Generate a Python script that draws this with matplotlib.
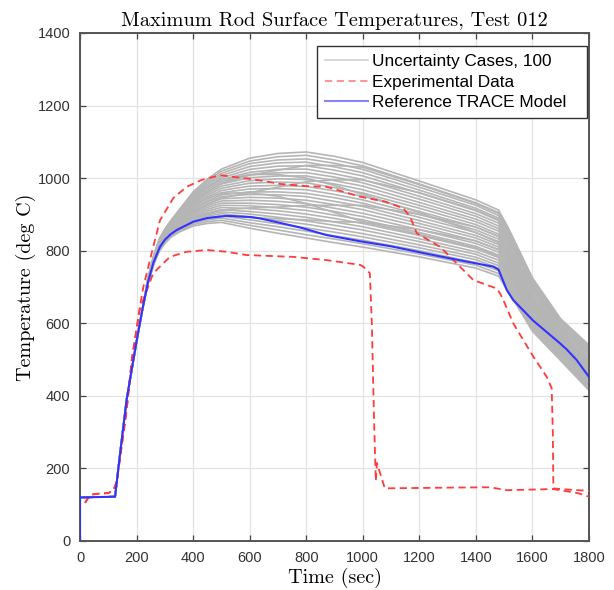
import matplotlib
matplotlib.use("Agg")
import matplotlib.pyplot as plt

plt.rcParams['font.family'] = ['Liberation Sans', 'DejaVu Sans']

# uncertainty cases: common start, then one row of values per case on t_case
t_start = [0, 124, 140, 165, 200, 220]
T_start = [120, 122, 230, 390, 550, 635]
t_case = [240, 260, 280, 300, 320, 350, 400, 450, 500, 600, 700, 800, 900, 1000,
          1200, 1400, 1480, 1510, 1540, 1600, 1700, 1800]

cases = [
    [708, 760, 798, 820, 836, 851, 868, 875, 878, 862, 848, 835, 822, 810, 783, 752, 730, 692, 655, 578, 497, 415],
    [709, 761, 799, 822, 838, 853, 872, 880, 884, 870, 857, 844, 832, 819, 791, 760, 737, 699, 662, 584, 502, 420],
    [709, 762, 801, 823, 840, 856, 876, 885, 890, 877, 866, 854, 841, 829, 800, 767, 745, 706, 668, 590, 506, 425],
    [710, 763, 802, 825, 842, 858, 879, 890, 896, 885, 874, 863, 851, 838, 808, 775, 752, 713, 675, 596, 511, 430],
    [711, 764, 803, 826, 843, 861, 883, 895, 902, 893, 883, 873, 860, 847, 816, 782, 759, 720, 682, 602, 515, 435],
    [711, 765, 805, 828, 845, 863, 887, 899, 907, 901, 892, 882, 870, 857, 825, 790, 766, 728, 688, 607, 520, 440],
    [712, 766, 806, 830, 847, 866, 891, 904, 913, 908, 901, 892, 879, 866, 833, 797, 774, 735, 695, 613, 525, 445],
    [713, 767, 808, 831, 849, 868, 894, 909, 919, 916, 910, 901, 889, 875, 842, 805, 781, 742, 702, 619, 529, 450],
    [713, 768, 809, 833, 851, 871, 898, 914, 925, 924, 918, 911, 898, 885, 850, 812, 788, 749, 708, 625, 534, 455],
    [714, 769, 810, 834, 853, 873, 902, 919, 931, 931, 927, 920, 908, 894, 858, 820, 796, 756, 715, 631, 538, 460],
    [715, 770, 812, 836, 854, 875, 906, 924, 937, 939, 936, 930, 917, 903, 867, 827, 803, 763, 722, 637, 543, 465],
    [715, 771, 813, 838, 856, 878, 909, 929, 943, 947, 945, 939, 927, 913, 875, 835, 810, 770, 728, 643, 548, 470],
    [716, 772, 814, 839, 858, 880, 913, 934, 949, 955, 954, 949, 936, 922, 883, 842, 817, 777, 735, 649, 552, 475],
    [717, 773, 816, 841, 860, 883, 917, 938, 954, 962, 962, 958, 946, 931, 892, 850, 825, 785, 742, 654, 557, 480],
    [718, 774, 817, 842, 862, 885, 921, 943, 960, 970, 971, 968, 955, 940, 900, 857, 832, 792, 749, 660, 561, 485],
    [718, 775, 818, 844, 864, 888, 924, 948, 966, 978, 980, 977, 965, 950, 908, 865, 839, 799, 755, 666, 566, 490],
    [719, 776, 820, 846, 865, 890, 928, 953, 972, 986, 989, 987, 974, 959, 917, 872, 846, 806, 762, 672, 571, 495],
    [720, 777, 821, 847, 867, 892, 932, 958, 978, 993, 998, 996, 984, 968, 925, 880, 854, 813, 769, 678, 575, 500],
    [720, 778, 822, 849, 869, 895, 936, 963, 984, 1001, 1006, 1006, 993, 978, 933, 887, 861, 820, 775, 684, 580, 505],
    [721, 779, 824, 850, 871, 897, 939, 968, 990, 1009, 1015, 1015, 1003, 987, 942, 895, 868, 827, 782, 690, 584, 510],
    [722, 780, 825, 852, 873, 900, 943, 973, 996, 1016, 1024, 1025, 1012, 996, 950, 902, 876, 834, 789, 696, 589, 515],
    [722, 781, 827, 854, 875, 902, 947, 977, 1001, 1024, 1033, 1034, 1022, 1006, 959, 910, 883, 842, 795, 701, 594, 520],
    [723, 782, 828, 855, 876, 905, 951, 982, 1007, 1032, 1042, 1044, 1031, 1015, 967, 917, 890, 849, 802, 707, 598, 525],
    [724, 783, 829, 857, 878, 907, 954, 987, 1013, 1040, 1050, 1053, 1041, 1024, 975, 925, 897, 856, 809, 713, 603, 530],
    [724, 784, 831, 858, 880, 910, 958, 992, 1019, 1047, 1059, 1063, 1050, 1034, 984, 932, 905, 863, 815, 719, 607, 535],
    [725, 785, 832, 860, 882, 912, 962, 997, 1025, 1055, 1068, 1072, 1060, 1043, 992, 940, 912, 870, 822, 725, 612, 540],
    [718, 775, 818, 844, 864, 888, 924, 945, 958, 960, 950, 930, 905, 880, 845, 808, 785, 745, 705, 622, 532, 455],
    [711, 765, 805, 828, 845, 863, 887, 902, 912, 918, 920, 925, 925, 925, 900, 865, 840, 800, 755, 665, 565, 490],
    [722, 781, 827, 854, 875, 902, 947, 975, 995, 1010, 1010, 1000, 980, 955, 905, 850, 822, 785, 742, 655, 555, 480],
    [715, 770, 812, 836, 854, 875, 906, 928, 945, 960, 975, 990, 995, 995, 960, 912, 885, 842, 796, 702, 595, 520],
    [710, 762, 802, 824, 841, 859, 880, 890, 896, 892, 888, 885, 880, 878, 858, 827, 803, 763, 722, 637, 543, 465],
    [720, 777, 821, 848, 868, 893, 934, 962, 985, 1008, 1022, 1035, 1035, 1030, 982, 930, 903, 862, 814, 718, 606, 533],
]

# reference TRACE model
t_ref = [0, 0, 124, 140, 165, 200, 220, 240, 260, 283, 300, 320, 342, 401, 450, 519, 600, 636,
         700, 778, 872, 990, 1100, 1249, 1367, 1462, 1480, 1509, 1532, 1603, 1697, 1721, 1756, 1800]
T_ref = [0, 120, 122, 230, 390, 550, 635, 712, 768, 811, 830, 845, 857, 880, 890, 896, 893, 889,
         878, 864, 843, 826, 812, 788, 770, 756, 748, 692, 664, 607, 545, 528, 499, 452]

# experimental data, two thermocouples
t_exp1 = [18, 35, 60, 100, 118, 130, 165, 183, 212, 224, 259, 283, 330, 377, 430, 495, 589,
          650, 707, 800, 872, 990, 1080, 1143, 1167, 1191, 1273, 1391, 1473, 1485, 1497, 1532,
          1603, 1650, 1668, 1672, 1674, 1700, 1800]
T_exp1 = [105, 127, 130, 132, 140, 163, 361, 499, 646, 700, 811, 884, 945, 976, 995, 1008, 999,
          992, 984, 978, 976, 949, 935, 917, 894, 848, 811, 719, 696, 683, 664, 600,
          508, 453, 421, 300, 145, 143, 138]

t_exp2 = [18, 35, 60, 100, 118, 130, 165, 183, 212, 259, 318, 377, 448, 519, 589, 754, 872,
          990, 1002, 1025, 1032, 1040, 1046, 1050, 1078, 1300, 1450, 1509, 1674, 1760, 1800]
T_exp2 = [105, 127, 130, 132, 140, 163, 361, 499, 640, 738, 783, 797, 802, 797, 788, 783, 774,
          761, 756, 738, 600, 330, 165, 215, 145, 147, 148, 140, 143, 132, 122]

x_ticks = list(range(0, 1801, 200))
y_ticks = list(range(0, 1401, 200))

serif = "cmr10"

fig = plt.figure(figsize=(6.14, 5.90), dpi=100)
ax = fig.add_axes([0.1303, 0.0831, 0.829, 0.861])

gray = "#b5b5b5"
for i, vals in enumerate(cases):
    ax.plot(t_start + t_case, T_start + vals, color=gray, lw=1.2,
            label="Uncertainty Cases, 100" if i == 0 else None, zorder=2)

ax.plot(t_exp1, T_exp1, color="#ff3b3b", lw=1.3, dashes=(4, 2.5),
        label="Experimental Data", zorder=3)
ax.plot(t_exp2, T_exp2, color="#ff3b3b", lw=1.3, dashes=(4, 2.5), zorder=3)
ax.plot(t_ref, T_ref, color="#3333ff", lw=1.5, label="Reference TRACE Model", zorder=4)

ax.set_xlim(0, 1800)
ax.set_ylim(0, 1400)
ax.set_xticks(x_ticks)
ax.set_yticks(y_ticks)
ax.grid(True, color="#e3e3e3", lw=0.9)
ax.set_axisbelow(True)
ax.tick_params(direction="in", top=True, right=True, length=4, width=0.9,
               labelsize=10.5, colors="#444444", labelcolor="#333333", pad=7)
for s in ax.spines.values():
    s.set_color("#555555")
    s.set_linewidth(1.4)

ax.set_title("Maximum Rod Surface Temperatures, Test 012", family=serif, fontsize=14.7, pad=5)
ax.set_xlabel("Time (sec)", family=serif, fontsize=14.5, labelpad=2)
ax.set_ylabel("Temperature (deg C)", family=serif, fontsize=14.5, labelpad=1)

# legend box stretched to the width it has in the original
leg = ax.legend(loc="upper left", bbox_to_anchor=(0.4656, 0.8, 0.5305, 0.174),
                mode="expand", borderaxespad=0, fontsize=12.4, fancybox=False,
                framealpha=1, edgecolor="#333333", handlelength=2.5,
                labelspacing=0.33, borderpad=0.45, handletextpad=0.25)
leg.get_frame().set_linewidth(1.0)
for h in leg.get_lines():
    h.set_alpha(0.6)

fig.savefig("out.png", dpi=100)
